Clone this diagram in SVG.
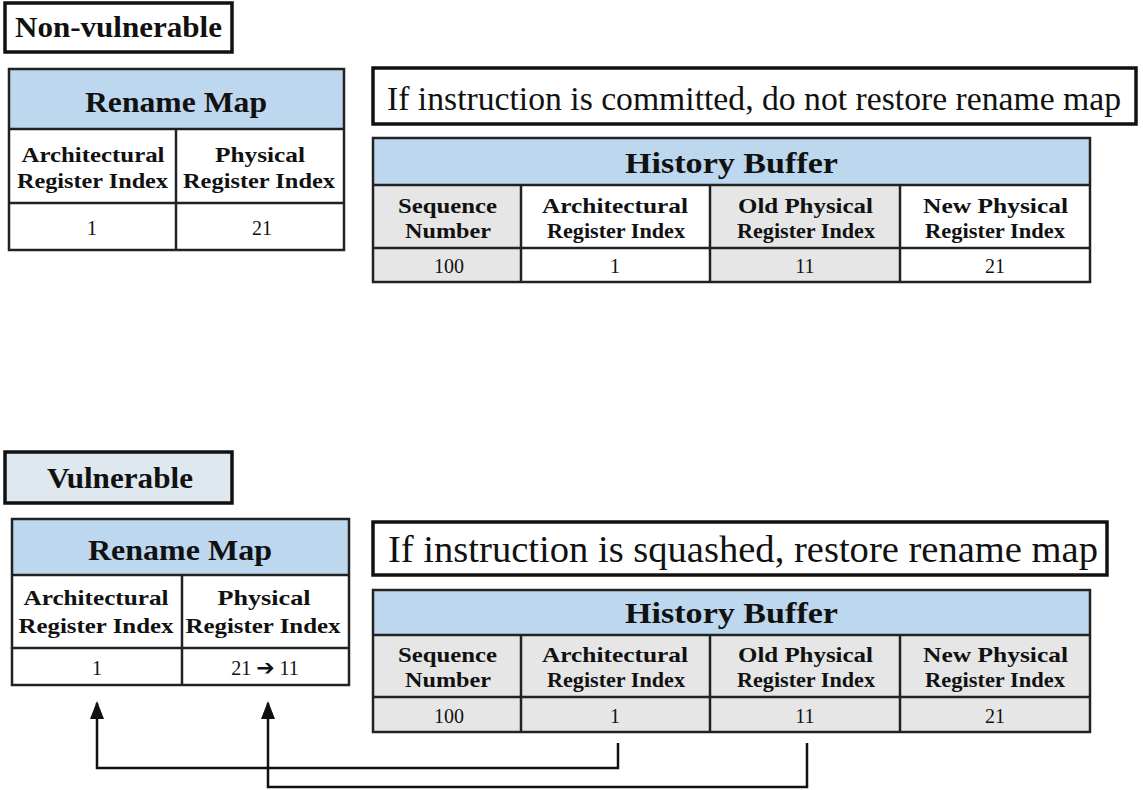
<svg xmlns="http://www.w3.org/2000/svg" width="1143" height="790" viewBox="0 0 1143 790">
<style>
text{font-family:"Liberation Serif","Times New Roman",serif;fill:#111;text-anchor:middle}
.lbl{font-size:30px;font-weight:bold}
.title{font-size:30px;font-weight:bold}
.hd{font-size:21px;font-weight:bold}
.val{font-size:20px}
.sym{font-family:"DejaVu Sans",sans-serif;font-weight:bold;font-size:22px}
.note{font-size:33.5px;text-anchor:start}
.box{fill:#fff;stroke:#111;stroke-width:3.5}
.tbl{fill:none;stroke:#222;stroke-width:2.5}
.ln{stroke:#222;stroke-width:2.5}
.hdr{fill:#BDD7EE}
.g{fill:#E6E6E6}
.w{fill:#fff}
.con{fill:none;stroke:#111;stroke-width:2.5}
</style>
<defs>
<marker id="ah" viewBox="0 0 18 14" refX="16" refY="7" markerWidth="18" markerHeight="14" markerUnits="userSpaceOnUse" orient="auto">
<path d="M0,0 L18,7 L0,14 Z" fill="#111"/>
</marker>
</defs>

<g id="label-nonvuln">
<rect class="box" x="5" y="3" width="227" height="49"/>
<text class="lbl" x="118.5" y="37" textLength="207" lengthAdjust="spacingAndGlyphs">Non-vulnerable</text>
</g>

<g id="rename-top">
<rect class="hdr" x="9" y="69" width="335" height="60"/>
<rect class="w" x="9" y="129" width="335" height="121"/>
<rect class="tbl" x="9" y="69" width="335" height="181"/>
<line class="ln" x1="9" y1="129" x2="344" y2="129"/>
<line class="ln" x1="9" y1="203" x2="344" y2="203"/>
<line class="ln" x1="176" y1="129" x2="176" y2="250"/>
<text class="title" x="176" y="112" textLength="182" lengthAdjust="spacingAndGlyphs">Rename Map</text>
<text class="hd" x="93" y="162" textLength="143" lengthAdjust="spacingAndGlyphs">Architectural</text>
<text class="hd" x="92.5" y="188" textLength="151" lengthAdjust="spacingAndGlyphs">Register Index</text>
<text class="hd" x="260" y="162" textLength="90" lengthAdjust="spacingAndGlyphs">Physical</text>
<text class="hd" x="259" y="188" textLength="152" lengthAdjust="spacingAndGlyphs">Register Index</text>
<text class="val" x="92" y="235">1</text>
<text class="val" x="262" y="235">21</text>
</g>

<g id="note-top">
<rect class="box" x="373" y="68" width="763" height="56"/>
<text class="note" x="387" y="110" textLength="734" lengthAdjust="spacingAndGlyphs">If instruction is committed, do not restore rename map</text>
</g>

<g id="history-top">
<rect class="hdr" x="373" y="138" width="717" height="47"/>
<rect class="g" x="373" y="185" width="148" height="97"/>
<rect class="w" x="521" y="185" width="189" height="97"/>
<rect class="g" x="710" y="185" width="190" height="97"/>
<rect class="w" x="900" y="185" width="190" height="97"/>
<rect class="tbl" x="373" y="138" width="717" height="144"/>
<line class="ln" x1="373" y1="185" x2="1090" y2="185"/>
<line class="ln" x1="373" y1="248" x2="1090" y2="248"/>
<line class="ln" x1="521" y1="185" x2="521" y2="282"/>
<line class="ln" x1="710" y1="185" x2="710" y2="282"/>
<line class="ln" x1="900" y1="185" x2="900" y2="282"/>
<text class="title" x="731.5" y="173" textLength="213" lengthAdjust="spacingAndGlyphs">History Buffer</text>
<text class="hd" x="447.5" y="213" textLength="99" lengthAdjust="spacingAndGlyphs">Sequence</text>
<text class="hd" x="448" y="238" textLength="86" lengthAdjust="spacingAndGlyphs">Number</text>
<text class="hd" x="615" y="213" textLength="146" lengthAdjust="spacingAndGlyphs">Architectural</text>
<text class="hd" x="616" y="238" textLength="138" lengthAdjust="spacingAndGlyphs">Register Index</text>
<text class="hd" x="805.5" y="213" textLength="135" lengthAdjust="spacingAndGlyphs">Old Physical</text>
<text class="hd" x="806" y="238" textLength="138" lengthAdjust="spacingAndGlyphs">Register Index</text>
<text class="hd" x="995.5" y="213" textLength="145" lengthAdjust="spacingAndGlyphs">New Physical</text>
<text class="hd" x="995" y="238" textLength="140" lengthAdjust="spacingAndGlyphs">Register Index</text>
<text class="val" x="449" y="273">100</text>
<text class="val" x="615" y="273">1</text>
<text class="val" x="805" y="273">11</text>
<text class="val" x="995" y="273">21</text>
</g>

<g id="label-vuln">
<rect class="box" x="5" y="452" width="227" height="51" style="fill:#DEE8EE"/>
<text class="lbl" x="120" y="488" textLength="146" lengthAdjust="spacingAndGlyphs">Vulnerable</text>
</g>

<g id="rename-bottom">
<rect class="hdr" x="12" y="519" width="337" height="56"/>
<rect class="w" x="12" y="575" width="337" height="110"/>
<rect class="tbl" x="12" y="519" width="337" height="166"/>
<line class="ln" x1="12" y1="575" x2="349" y2="575"/>
<line class="ln" x1="12" y1="648" x2="349" y2="648"/>
<line class="ln" x1="182" y1="575" x2="182" y2="685"/>
<text class="title" x="180" y="560" textLength="184" lengthAdjust="spacingAndGlyphs">Rename Map</text>
<text class="hd" x="96" y="605" textLength="145" lengthAdjust="spacingAndGlyphs">Architectural</text>
<text class="hd" x="96" y="633" textLength="155" lengthAdjust="spacingAndGlyphs">Register Index</text>
<text class="hd" x="264" y="605" textLength="93" lengthAdjust="spacingAndGlyphs">Physical</text>
<text class="hd" x="263" y="633" textLength="155" lengthAdjust="spacingAndGlyphs">Register Index</text>
<text class="val" x="97" y="675">1</text>
<text class="val" x="265" y="675">21 <tspan class="sym">➔</tspan> 11</text>
</g>

<g id="note-bottom">
<rect class="box" x="373" y="522" width="734" height="53"/>
<text class="note" x="388" y="562" style="font-size:37px" textLength="710" lengthAdjust="spacingAndGlyphs">If instruction is squashed, restore rename map</text>
</g>

<g id="history-bottom">
<rect class="hdr" x="373" y="590" width="717" height="45"/>
<rect class="g" x="373" y="635" width="717" height="97"/>
<rect class="tbl" x="373" y="590" width="717" height="142"/>
<line class="ln" x1="373" y1="635" x2="1090" y2="635"/>
<line class="ln" x1="373" y1="697" x2="1090" y2="697"/>
<line class="ln" x1="521" y1="635" x2="521" y2="732"/>
<line class="ln" x1="710" y1="635" x2="710" y2="732"/>
<line class="ln" x1="900" y1="635" x2="900" y2="732"/>
<text class="title" x="731.5" y="623" textLength="213" lengthAdjust="spacingAndGlyphs">History Buffer</text>
<text class="hd" x="447.5" y="662" textLength="99" lengthAdjust="spacingAndGlyphs">Sequence</text>
<text class="hd" x="448" y="687" textLength="86" lengthAdjust="spacingAndGlyphs">Number</text>
<text class="hd" x="615" y="662" textLength="146" lengthAdjust="spacingAndGlyphs">Architectural</text>
<text class="hd" x="616" y="687" textLength="138" lengthAdjust="spacingAndGlyphs">Register Index</text>
<text class="hd" x="805.5" y="662" textLength="135" lengthAdjust="spacingAndGlyphs">Old Physical</text>
<text class="hd" x="806" y="687" textLength="138" lengthAdjust="spacingAndGlyphs">Register Index</text>
<text class="hd" x="995.5" y="662" textLength="145" lengthAdjust="spacingAndGlyphs">New Physical</text>
<text class="hd" x="995" y="687" textLength="140" lengthAdjust="spacingAndGlyphs">Register Index</text>
<text class="val" x="449" y="723">100</text>
<text class="val" x="615" y="723">1</text>
<text class="val" x="805" y="723">11</text>
<text class="val" x="995" y="723">21</text>
</g>

<g id="connectors">
<polyline class="con" points="618,743 618,768 97,768 97,703" marker-end="url(#ah)"/>
<polyline class="con" points="807,743 807,787 268,787 268,703" marker-end="url(#ah)"/>
</g>
</svg>
